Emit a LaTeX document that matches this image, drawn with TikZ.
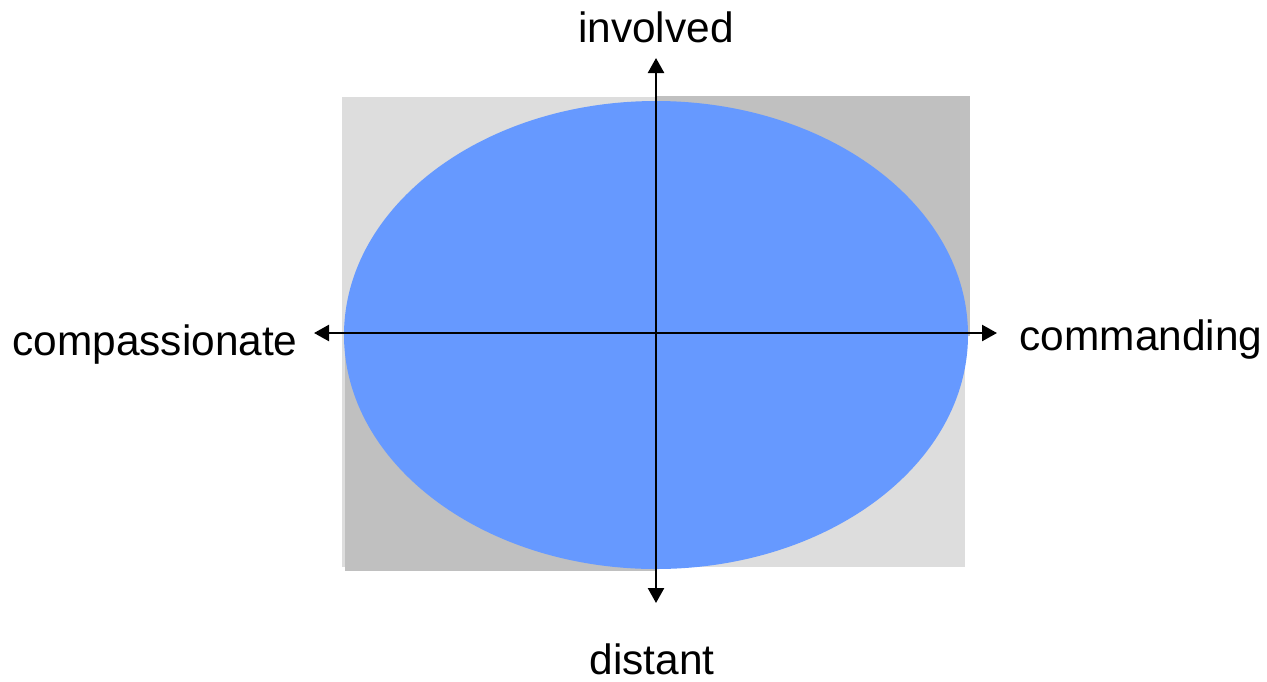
\documentclass[tikz,border=0pt]{standalone}
\usepackage{fontspec}
\setmainfont{Liberation Sans}
\usetikzlibrary{arrows.meta, positioning}

\definecolor{quadlight}{HTML}{DDDDDD}
\definecolor{quaddark}{HTML}{C0C0C0}
\definecolor{ovalblue}{HTML}{6699FF}

\begin{document}
\begin{tikzpicture}[
		x=0.5pt, y=-0.5pt,
		axis/.style={line width=1.2pt, {Triangle[width=8pt, length=7.5pt]}-{Triangle[width=8pt, length=7.5pt]}},
		pole/.style={font=\fontsize{21.2pt}{25pt}\selectfont, anchor=base, inner sep=0pt}
		]
		\useasboundingbox (0,0) rectangle (1267,681);
		
		% ==========================================
		% 1. BACKGROUND QUADRANTS
		% ==========================================
		\fill[quadlight] (342,97) rectangle (965,567);
		\fill[quaddark] (657,96) rectangle (970,336);
		\fill[quaddark] (345,336) rectangle (656,571);
		
		% ==========================================
		% 2. OVAL
		% ==========================================
		\fill[ovalblue] (656,335) ellipse [x radius=312, y radius=234];
		
		% ==========================================
		% 3. AXES AND POLES
		% ==========================================
		\coordinate (top) at (656,58);
		\coordinate (bottom) at (656,603);
		\coordinate (left) at (314,333);
		\coordinate (right) at (997,333);
		
		\draw[axis] (bottom) -- (top);
		\draw[axis] (left) -- (right);
		
		\node[pole] (involved) at (656,42) {involved};
		\node[pole] (distant) at (652,674) {distant};
		\node[pole] (compassionate) at (155,355) {compassionate};
		\node[pole] (commanding) at (1141,350) {commanding};
		
	\end{tikzpicture}
\end{document}
